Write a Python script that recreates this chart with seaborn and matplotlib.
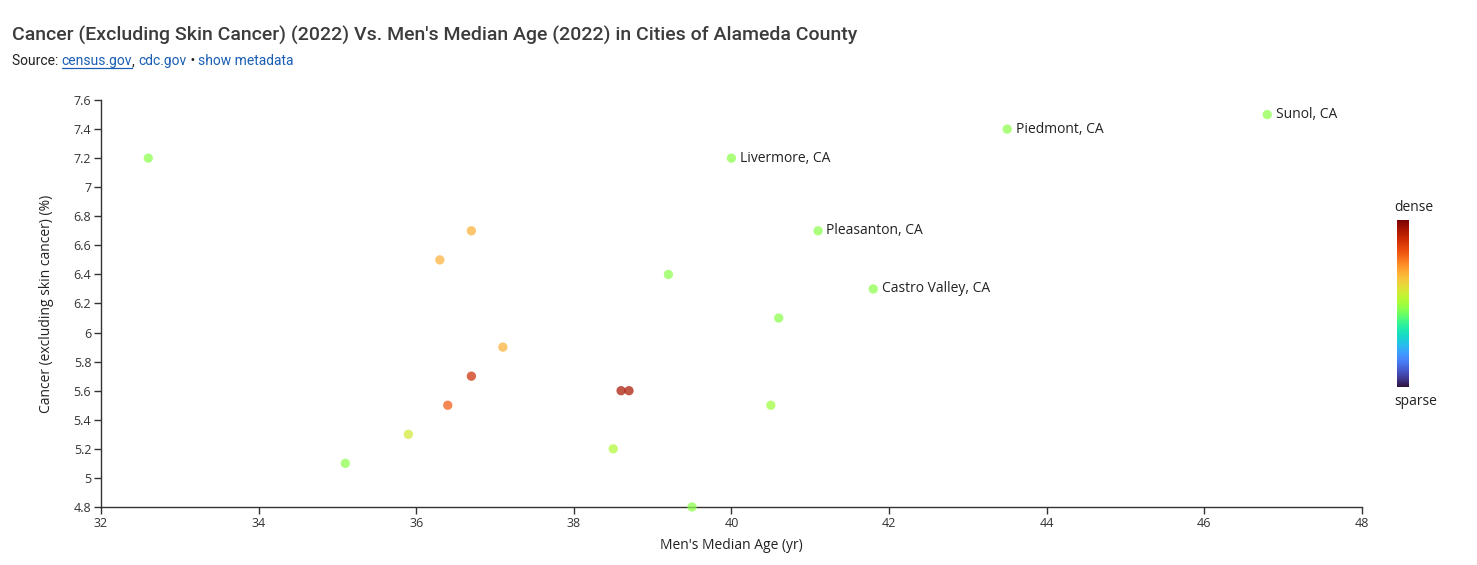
import matplotlib
matplotlib.use("Agg")
import matplotlib.pyplot as plt
import seaborn as sns
import pandas as pd
import numpy as np
from matplotlib.colors import Normalize
from matplotlib.cm import ScalarMappable

sns.set_theme(style="white")
plt.rcParams['font.family'] = ['Open Sans', 'DejaVu Sans']

# Data
ages = [32.6, 35.1, 35.9, 36.3, 36.4, 36.7, 36.7, 37.1, 38.5, 38.6, 38.7,
        39.2, 39.5, 40.0, 40.5, 40.6, 41.1, 41.8, 43.5, 46.8]
cancer = [7.2, 5.1, 5.3, 6.5, 5.5, 6.7, 5.7, 5.9, 5.2, 5.6, 5.6,
          6.4, 4.8, 7.2, 5.5, 6.1, 6.7, 6.3, 7.4, 7.5]
density = [0.47, 0.47, 0.57, 0.68, 0.80, 0.68, 0.88, 0.68, 0.52, 0.94, 0.94,
           0.47, 0.47, 0.47, 0.49, 0.47, 0.47, 0.47, 0.47, 0.47]
labels = ["", "", "", "", "", "", "", "", "", "", "",
          "", "", "Livermore, CA", "", "", "Pleasanton, CA", "Castro Valley, CA",
          "Piedmont, CA", "Sunol, CA"]
x_ticks = [32, 34, 36, 38, 40, 42, 44, 46, 48]
y_ticks = [4.8, 5.0, 5.2, 5.4, 5.6, 5.8, 6.0, 6.2, 6.4, 6.6, 6.8, 7.0, 7.2, 7.4, 7.6]
y_tick_labels = ["4.8", "5", "5.2", "5.4", "5.6", "5.8", "6", "6.2", "6.4", "6.6",
                 "6.8", "7", "7.2", "7.4", "7.6"]

df = pd.DataFrame({"age": ages, "cancer": cancer, "density": density, "label": labels})

fig = plt.figure(figsize=(14.77, 5.65), dpi=100)
ax = fig.add_axes([0.0684, 0.1027, 0.8536, 0.7203])

sns.scatterplot(data=df, x="age", y="cancer", hue="density", palette="turbo",
                hue_norm=(0, 1), legend=False, s=45, alpha=0.72, linewidth=0,
                ax=ax, clip_on=False, zorder=3)

for _, r in df.iterrows():
    if r["label"]:
        ax.annotate(r["label"], (r["age"], r["cancer"]), xytext=(6, 0),
                    textcoords="offset points", va="center", ha="left",
                    fontsize=10, color="#222222")

ax.set_xlim(32, 48)
ax.set_ylim(4.8, 7.6)
ax.set_xticks(x_ticks)
ax.set_xticklabels([str(t) for t in x_ticks])
ax.set_yticks(y_ticks)
ax.set_yticklabels(y_tick_labels)
for side in ["top", "right"]:
    ax.spines[side].set_visible(False)
for side in ["left", "bottom"]:
    ax.spines[side].set_color("#333333")
    ax.spines[side].set_linewidth(1)
ax.tick_params(axis="both", which="both", length=5, width=1, color="#333333",
               labelsize=9, labelcolor="#333333", direction="out", pad=2)
ax.tick_params(bottom=True, left=True)
ax.set_xlabel("Men's Median Age (yr)", fontsize=10, color="#222222", labelpad=6)
ax.set_ylabel("Cancer (excluding skin cancer) (%)", fontsize=10, color="#222222", labelpad=14)
ax.grid(False)

# Colorbar
cax = fig.add_axes([0.9458, 0.315, 0.0081, 0.2956])
sm = ScalarMappable(norm=Normalize(0, 1), cmap="turbo")
cb = fig.colorbar(sm, cax=cax)
cb.outline.set_visible(False)
cb.set_ticks([])
fig.text(0.9573, 0.632, "dense", ha="center", va="center", fontsize=10, color="#222222")
fig.text(0.9587, 0.290, "sparse", ha="center", va="center", fontsize=10, color="#222222")

# Title and source
fig.text(0.0081, 0.937, "Cancer (Excluding Skin Cancer) (2022) Vs. Men's Median Age (2022) in Cities of Alameda County",
         fontsize=14, fontweight="medium", family=["Roboto", "DejaVu Sans"],
         color="#3c3c3c", va="center", ha="left")
y_src = 0.892
fs = 10
fam = ["Roboto", "DejaVu Sans"]
t1 = fig.text(0.0081, y_src, "Source: ", fontsize=fs, family=fam, color="#222222", va="center", ha="left")
fig.canvas.draw()
r = fig.canvas.get_renderer()
bb = t1.get_window_extent(r)
x = bb.x1 / fig.bbox.width
t2 = fig.text(x, y_src, "census.gov", fontsize=fs, family=fam, color="#1a5fb4", va="center", ha="left")
bb2 = t2.get_window_extent(r)
x2 = bb2.x1 / fig.bbox.width
fig.add_artist(plt.Line2D([x, x2], [y_src - 0.0125, y_src - 0.0125], color="#1a5fb4", lw=0.9,
                          transform=fig.transFigure))
t3 = fig.text(x2, y_src, ", ", fontsize=fs, family=fam, color="#222222", va="center", ha="left")
bb3 = t3.get_window_extent(r)
x3 = bb3.x1 / fig.bbox.width
t4 = fig.text(x3, y_src, "cdc.gov", fontsize=fs, family=fam, color="#1a5fb4", va="center", ha="left")
bb4 = t4.get_window_extent(r)
x4 = bb4.x1 / fig.bbox.width
t5 = fig.text(x4, y_src, " \u2022 ", fontsize=fs, family=fam, color="#222222", va="center", ha="left")
bb5 = t5.get_window_extent(r)
x5 = bb5.x1 / fig.bbox.width
fig.text(x5, y_src, "show metadata", fontsize=fs, family=fam, color="#1a5fb4", va="center", ha="left")

fig.savefig("out.png", dpi=100, facecolor="white")
